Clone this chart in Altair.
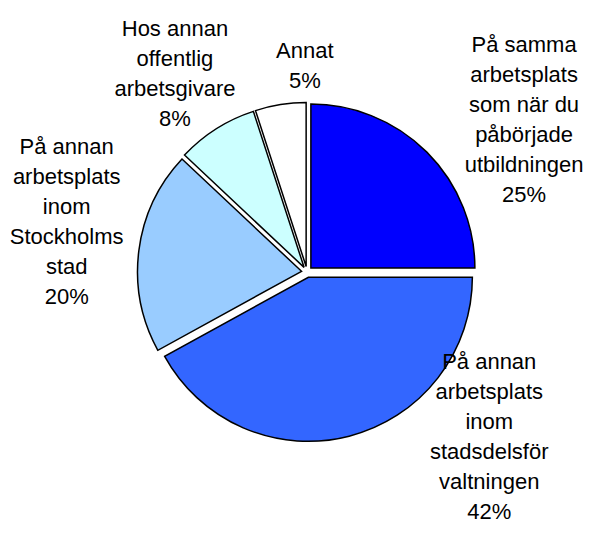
import math
import altair as alt
import pandas as pd

# ---- data ----
categories = [
    "På samma arbetsplats som när du påbörjade utbildningen",
    "På annan arbetsplats inom stadsdelsförvaltningen",
    "På annan arbetsplats inom Stockholms stad",
    "Hos annan offentlig arbetsgivare",
    "Annat",
]
label_text = [
    "På samma\narbetsplats\nsom när du\npåbörjade\nutbildningen",
    "På annan\narbetsplats\ninom\nstadsdelsför\nvaltningen",
    "På annan\narbetsplats\ninom\nStockholms\nstad",
    "Hos annan\noffentlig\narbetsgivare",
    "Annat",
]
shares = [25, 42, 20, 8, 5]
colors = ["#0000FF", "#3366FF", "#99CCFF", "#CCFFFF", "#FFFFFF"]

# ---- layout (styling, not data) ----
W, H = 575, 518
CX, CY = 299, 264          # pie centre inside the plot area
R = 164                    # pie radius in px
EXPLODE = 5.5              # px each slice is pulled out
LINE_H = 30
label_nudge_deg = [10.0, -33.4, 4.6, -1.3, 8.4]
label_dist_px = [265.0, 246.0, 245.5, 238.0, 206.0]

df = pd.DataFrame({
    "category": categories,
    "label": [f"{t}\n{v}%" for t, v in zip(label_text, shares)],
    "share": shares,
    "order": list(range(len(shares))),
    "nudge": label_nudge_deg,
    "ldist": label_dist_px,
})

xs = alt.Scale(domain=[-CX / R, (W - CX) / R], nice=False, zero=False)
ys = alt.Scale(domain=[-(H - CY) / R, CY / R], nice=False, zero=False)

base = alt.Chart(df).transform_window(
    end="sum(share)", sort=[alt.SortField("order")], frame=[None, 0]
).transform_calculate(
    start="datum.end - datum.share",
    mid="(datum.end - datum.share / 2) / 100 * 2 * PI",
    nlines="length(split(datum.label, '\\n'))",
).transform_calculate(
    dx=f"{EXPLODE / R} * sin(datum.mid)",
    dy=f"{EXPLODE / R} * cos(datum.mid)",
    la="datum.mid + datum.nudge * PI / 180",
).transform_calculate(
    lx=f"datum.ldist / {R} * sin(datum.la)",
    ly=f"datum.ldist / {R} * cos(datum.la) + (datum.nlines - 1) * {LINE_H / 2} / {R}",
)

arcs = base.mark_arc(radius=R, stroke="black", strokeWidth=1.5).encode(
    x=alt.X("dx:Q", scale=xs, axis=None),
    y=alt.Y("dy:Q", scale=ys, axis=None),
    theta=alt.Theta("start:Q", scale=alt.Scale(domain=[0, 100], range=[0, 2 * math.pi]), stack=None),
    theta2="end:Q",
    color=alt.Color("category:N", scale=alt.Scale(domain=categories, range=colors), legend=None),
)

labels = base.mark_text(
    font="Liberation Sans", fontSize=22, lineHeight=LINE_H, lineBreak="\n",
    align="center", baseline="middle", color="black",
).encode(
    x=alt.X("lx:Q", scale=xs, axis=None),
    y=alt.Y("ly:Q", scale=ys, axis=None),
    text="label:N",
)

chart = alt.layer(arcs, labels).properties(
    width=W, height=H, autosize="none", padding=0
).configure_view(stroke=None)

chart.save("out.html", embed_options={"renderer": "svg", "actions": False})
